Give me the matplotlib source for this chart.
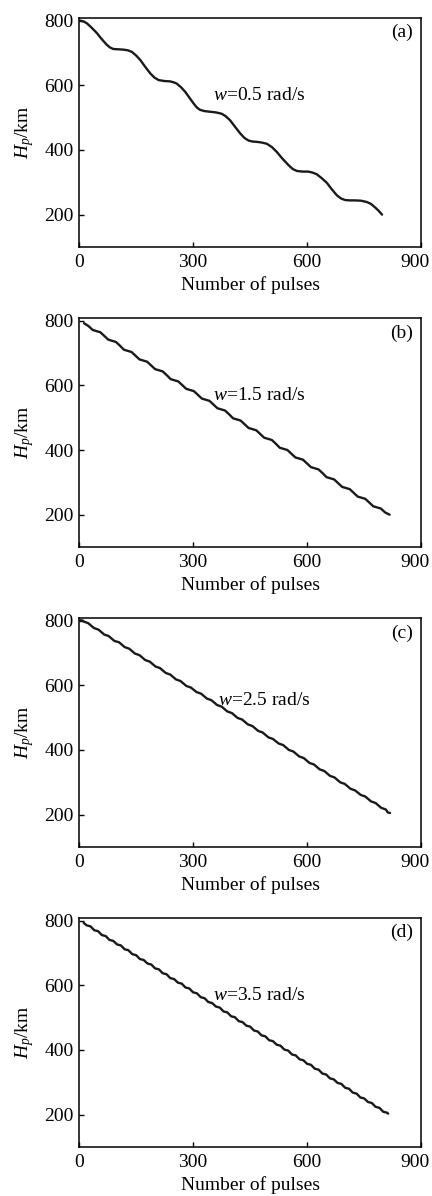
import matplotlib
matplotlib.use("Agg")
import matplotlib.pyplot as plt
from matplotlib.transforms import ScaledTranslation

plt.rcParams['font.family'] = ['Liberation Serif', 'DejaVu Serif']
plt.rcParams['mathtext.fontset'] = 'custom'
plt.rcParams['mathtext.rm'] = 'Liberation Serif'
plt.rcParams['mathtext.it'] = 'Liberation Serif:italic'

# panel (a) w=0.5 rad/s
xa = [3, 12, 20, 33, 47, 60, 73, 81, 90, 104, 117, 128, 139, 150, 161, 174, 187,
      198, 209, 224, 239, 249, 257, 268, 279, 290, 301, 310, 318, 330, 345, 360,
      375, 386, 397, 410, 424, 435, 446, 456, 467, 480, 494, 507, 520, 535, 551,
      562, 573, 588, 603, 614, 625, 638, 652, 665, 678, 689, 700, 713, 726, 742,
      757, 768, 779, 788, 797]
ya = [800, 797, 792, 778, 761, 742, 725, 717, 712, 711, 710, 708, 703, 692, 678,
      657, 637, 624, 616, 613, 612, 609, 605, 594, 580, 562, 544, 531, 524, 520,
      518, 516, 512, 504, 492, 472, 451, 437, 429, 426, 425, 423, 419, 409, 394,
      373, 353, 341, 335, 333, 333, 330, 325, 313, 298, 278, 260, 250, 245, 244,
      244, 243, 239, 233, 222, 212, 200]

# panel (b) w=1.5 rad/s
xb = [13, 25, 36, 56, 67, 77, 97, 108, 118, 138, 149, 159, 179, 190, 200, 220,
      231, 241, 261, 272, 282, 302, 313, 323, 343, 354, 364, 384, 395, 405, 425,
      436, 446, 466, 477, 487, 507, 518, 528, 548, 559, 569, 589, 600, 610, 630,
      641, 651, 671, 682, 692, 712, 723, 733, 753, 764, 774, 794, 805, 817]
yb = [792, 783, 771, 764, 752, 741, 734, 722, 710, 703, 691, 680, 673, 661, 650,
      643, 631, 619, 612, 600, 589, 582, 570, 559, 552, 540, 529, 522, 510, 498,
      491, 479, 468, 461, 449, 438, 431, 419, 407, 400, 388, 377, 370, 358, 347,
      340, 328, 316, 309, 297, 286, 279, 267, 256, 249, 237, 226, 219, 207, 200]

# panel (c) w=2.5 rad/s
xc = [3, 10, 12, 24, 39, 51, 66, 78, 93, 105, 120, 132, 147, 159, 174, 186, 201,
      213, 228, 240, 255, 267, 282, 294, 309, 321, 336, 348, 363, 375, 390, 402,
      417, 429, 444, 456, 471, 483, 498, 510, 525, 537, 552, 564, 579, 591, 606,
      618, 633, 645, 660, 672, 687, 699, 714, 726, 741, 753, 768, 780, 795, 807,
      812, 818]
yc = [801, 800, 797, 792, 777, 772, 757, 752, 737, 733, 718, 713, 698, 693, 678,
      673, 658, 653, 638, 633, 618, 613, 598, 593, 579, 574, 559, 554, 539, 534,
      519, 514, 499, 494, 479, 474, 459, 454, 439, 434, 420, 415, 400, 395, 380,
      375, 360, 355, 340, 335, 320, 315, 300, 295, 280, 275, 261, 256, 241, 236,
      221, 216, 207, 205]

# panel (d) w=3.5 rad/s
xd = [12, 20, 30, 40, 50, 60, 70, 80, 90, 100, 110, 120, 130, 140, 150, 160, 170,
      180, 190, 200, 210, 220, 230, 240, 250, 260, 270, 280, 290, 300, 310, 320,
      330, 340, 350, 360, 370, 380, 390, 400, 410, 420, 430, 440, 450, 460, 470,
      480, 490, 500, 510, 520, 530, 540, 550, 560, 570, 580, 590, 600, 610, 620,
      630, 640, 650, 660, 670, 680, 690, 700, 710, 720, 730, 740, 750, 760, 770,
      780, 790, 800, 810, 813]
yd = [793, 785, 782, 770, 767, 755, 752, 740, 737, 726, 723, 711, 708, 696, 693,
      681, 678, 667, 664, 652, 649, 637, 634, 622, 619, 608, 605, 593, 590, 578,
      575, 563, 560, 548, 545, 534, 531, 519, 516, 504, 501, 489, 486, 475, 472,
      460, 457, 445, 442, 430, 427, 416, 413, 401, 398, 386, 383, 371, 368, 357,
      354, 342, 339, 327, 324, 312, 309, 298, 295, 283, 280, 268, 265, 253, 250,
      239, 236, 224, 221, 209, 206, 203]

panels = [(xa, ya, '(a)', '0.5', 353, 567),
          (xb, yb, '(b)', '1.5', 353, 568),
          (xc, yc, '(c)', '2.5', 366, 553),
          (xd, yd, '(d)', '3.5', 353, 568)]

fig = plt.figure(figsize=(4.32, 11.96), dpi=100)
bottoms = [0.7935, 0.5426, 0.2918, 0.041]

for (x, y, tag, w, tx, ty), b in zip(panels, bottoms):
    ax = fig.add_axes([0.183, b, 0.792, 0.1915])
    ax.plot(x, y, color='#1a1a1a', lw=1.7, solid_joinstyle='round',
            solid_capstyle='round')
    ax.set_xlim(0, 900)
    ax.set_ylim(100, 808)
    ax.set_xticks([0, 300, 600, 900])
    ax.set_yticks([200, 400, 600, 800])
    ax.tick_params(direction='in', length=3.5, width=1, labelsize=14, pad=5)
    ax.tick_params(axis='y', pad=4)
    for s in ax.spines.values():
        s.set_linewidth(1.1)
    ax.set_xlabel('Number of pulses', fontsize=14, labelpad=4)
    ax.set_ylabel('$H_p$/km', fontsize=14, labelpad=6)
    ax.text(0.975, 0.935, tag, transform=ax.transAxes, ha='right', va='center',
            fontsize=14)
    ax.text(tx, ty, '$w$=' + w + ' rad/s', ha='left', va='center', fontsize=14)
    # keep the last x tick label inside the figure
    fig.canvas.draw()
    last = ax.get_xticklabels()[-1]
    last.set_transform(last.get_transform() +
                       ScaledTranslation(-4.5 / 72, 0, fig.dpi_scale_trans))

fig.savefig('out.png', dpi=100)
